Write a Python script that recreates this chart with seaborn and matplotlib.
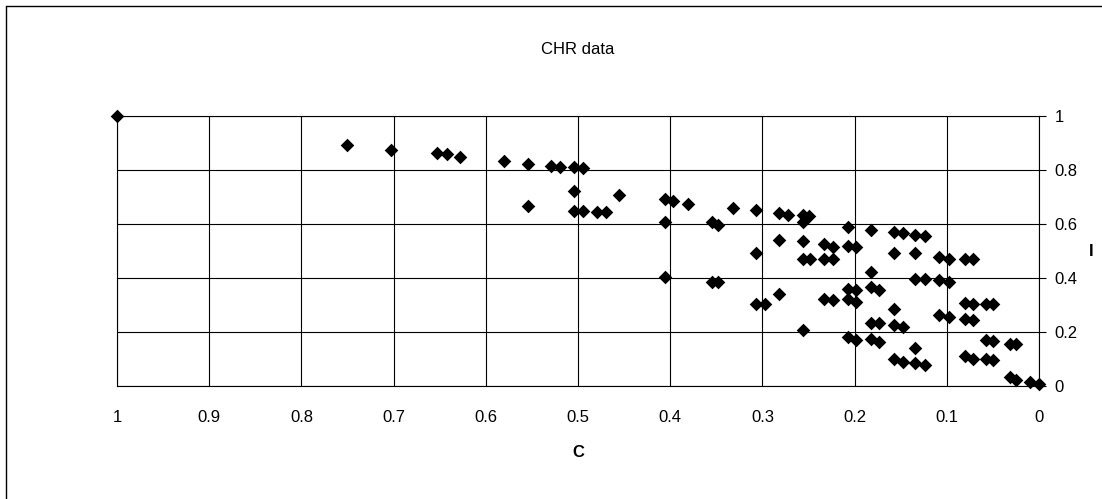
import matplotlib
matplotlib.use("Agg")
import matplotlib.pyplot as plt
import seaborn as sns
import pandas as pd
from matplotlib.lines import Line2D

# Data
c_vals = [1.0, 0.751, 0.703, 0.653, 0.642, 0.628, 0.580, 0.554, 0.529, 0.519,
          0.504, 0.495, 0.504, 0.455, 0.554, 0.504, 0.495, 0.479, 0.470, 0.406,
          0.397, 0.381, 0.332, 0.307, 0.406, 0.355, 0.348, 0.282, 0.272, 0.256,
          0.249, 0.256, 0.207, 0.182, 0.157, 0.147, 0.134, 0.124, 0.282, 0.256,
          0.233, 0.223, 0.207, 0.198, 0.307, 0.256, 0.248, 0.233, 0.223, 0.157,
          0.134, 0.108, 0.098, 0.080, 0.072, 0.182, 0.406, 0.355, 0.348, 0.134,
          0.124, 0.108, 0.098, 0.207, 0.198, 0.182, 0.174, 0.282, 0.233, 0.223,
          0.207, 0.198, 0.307, 0.297, 0.080, 0.072, 0.058, 0.050, 0.157, 0.108,
          0.098, 0.080, 0.072, 0.182, 0.174, 0.157, 0.147, 0.256, 0.207, 0.198,
          0.182, 0.174, 0.058, 0.050, 0.031, 0.025, 0.134, 0.157, 0.147, 0.134,
          0.124, 0.080, 0.072, 0.058, 0.050, 0.031, 0.025, 0.010, 0.0]
i_vals = [1.0, 0.892, 0.875, 0.863, 0.860, 0.849, 0.833, 0.824, 0.816, 0.812,
          0.812, 0.806, 0.724, 0.707, 0.665, 0.648, 0.648, 0.643, 0.643, 0.691,
          0.687, 0.674, 0.660, 0.651, 0.606, 0.606, 0.596, 0.639, 0.633, 0.633,
          0.629, 0.606, 0.590, 0.577, 0.571, 0.565, 0.559, 0.555, 0.540, 0.538,
          0.525, 0.515, 0.519, 0.515, 0.491, 0.472, 0.472, 0.470, 0.470, 0.494,
          0.494, 0.478, 0.472, 0.472, 0.470, 0.423, 0.404, 0.386, 0.386, 0.398,
          0.398, 0.392, 0.386, 0.361, 0.355, 0.365, 0.355, 0.342, 0.324, 0.318,
          0.321, 0.311, 0.305, 0.305, 0.309, 0.305, 0.305, 0.303, 0.287, 0.262,
          0.256, 0.247, 0.244, 0.234, 0.234, 0.225, 0.219, 0.206, 0.182, 0.169,
          0.173, 0.163, 0.169, 0.167, 0.157, 0.155, 0.141, 0.099, 0.089, 0.085,
          0.077, 0.111, 0.101, 0.101, 0.095, 0.033, 0.021, 0.015, 0.009]

x_ticks = [1, 0.9, 0.8, 0.7, 0.6, 0.5, 0.4, 0.3, 0.2, 0.1, 0]
y_ticks = [0, 0.2, 0.4, 0.6, 0.8, 1]

df = pd.DataFrame({"C": c_vals, "I": i_vals})

sns.set_style("white")
plt.rcParams['font.family'] = ['Liberation Sans', 'DejaVu Sans']
plt.rcParams['text.color'] = 'black'
plt.rcParams['axes.labelcolor'] = 'black'

fig = plt.figure(figsize=(11.02, 4.99), dpi=100)
ax = fig.add_axes([117 / 1102, 113 / 499, 922 / 1102, 270 / 499])

sns.scatterplot(data=df, x="C", y="I", marker="D", color="black", s=48,
                linewidth=0, ax=ax, zorder=3, clip_on=False)

ax.set_xlim(1, 0)
ax.set_ylim(0, 1)
ax.set_xticks(x_ticks)
ax.set_xticklabels([f"{t:g}" for t in x_ticks])
ax.set_yticks(y_ticks)
ax.set_yticklabels([f"{t:g}" for t in y_ticks])
ax.yaxis.tick_right()
ax.yaxis.set_label_position("right")
ax.tick_params(axis="both", direction="out", length=5, width=0.8,
               colors="black", labelsize=12)
ax.tick_params(axis="x", pad=12)
ax.tick_params(axis="y", pad=6)
ax.grid(True, color="black", linewidth=0.8)
ax.set_axisbelow(True)
for sp in ax.spines.values():
    sp.set_visible(True)
    sp.set_color("black")
    sp.set_linewidth(0.8)

ax.set_xlabel("C", fontsize=12, fontweight="bold", labelpad=15)
ax.set_ylabel("I", fontsize=12, fontweight="bold", rotation=0, labelpad=10,
              va="center")
ax.set_title("CHR data", fontsize=12, pad=45)

# outer chart-area border (left and top edges visible)
fig.add_artist(Line2D([6 / 1102, 6 / 1102], [0, 1 - 6 / 499],
                      transform=fig.transFigure, color="black", linewidth=1))
fig.add_artist(Line2D([6 / 1102, 1], [1 - 6 / 499, 1 - 6 / 499],
                      transform=fig.transFigure, color="black", linewidth=1))

fig.savefig("out.png", dpi=100)
